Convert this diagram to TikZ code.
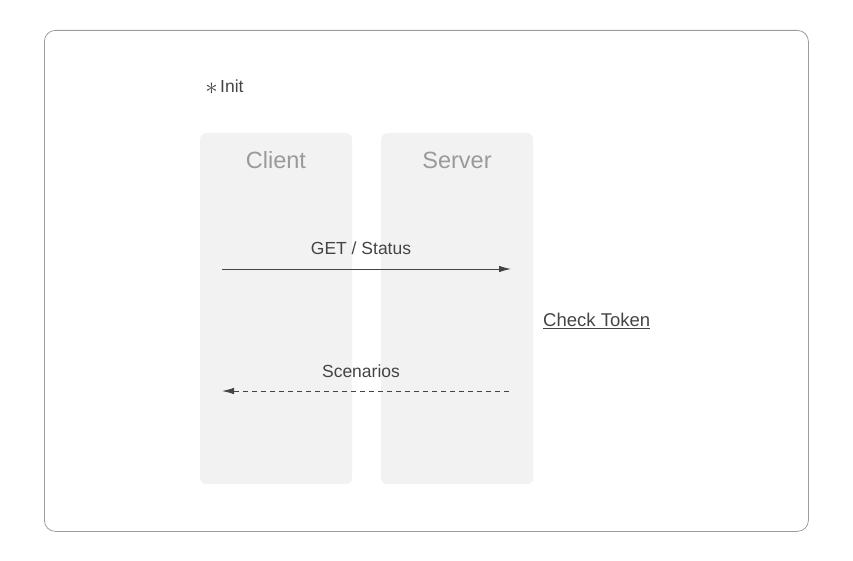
\documentclass[tikz,border=0pt]{standalone}
\usepackage{fontspec}
\setmainfont{Liberation Sans}
\usetikzlibrary{arrows.meta}
\definecolor{lanefill}{HTML}{F2F2F2}
\definecolor{titlegray}{HTML}{9A9A9A}
\definecolor{ink}{HTML}{444444}
\definecolor{framegray}{HTML}{9C9C9C}
\tikzset{
  lane/.style={fill=lanefill, draw=none, rounded corners=6pt, minimum width=152pt, minimum height=351pt, anchor=north west, inner sep=0pt},
  lanetitle/.style={text=titlegray, font=\fontsize{23.5}{25}\selectfont, inner sep=0pt},
  msglabel/.style={text=ink, font=\fontsize{17.5}{19}\selectfont, inner sep=0pt},
  msg/.style={draw=ink, line width=0.9pt, -{Latex[length=12pt,width=6.5pt]}},
  reply/.style={msg, dash pattern=on 5pt off 4pt},
}
\begin{document}
\begin{tikzpicture}[x=1pt,y=-1pt]
\useasboundingbox (0,0) rectangle (853,561);
\node[draw=framegray, line width=0.8pt, rounded corners=11pt, minimum width=764pt, minimum height=501pt, anchor=north west, inner sep=0pt] (frame) at (44,30) {};
\node[text=ink, inner sep=0pt, font=\fontsize{24}{24}\selectfont] (star) at (211.5,89) {$\ast$};
\node[msglabel, anchor=west] (init) at (220,86) {Init};
\node[lane] (client) at (200,133) {};
\node[lane] (server) at (381,133) {};
\node[lanetitle] (ctitle) at (276,160) {Client};
\node[lanetitle] (stitle) at (457,160) {Server};
\coordinate (c1) at (222,269);
\coordinate (s1) at (511,269);
\coordinate (s2) at (509,391);
\coordinate (c2) at (222,391);
\draw[msg] (c1) -- (s1);
\draw[reply] (s2) -- (c2);
\node[msglabel] (getlbl) at (361,248.5) {GET / Status};
\node[msglabel] (scnlbl) at (361,371) {Scenarios};
\node[msglabel, anchor=west, font=\fontsize{18.5}{20}\selectfont] (check) at (543,321) {\underline{Check Token}};
\end{tikzpicture}
\end{document}
